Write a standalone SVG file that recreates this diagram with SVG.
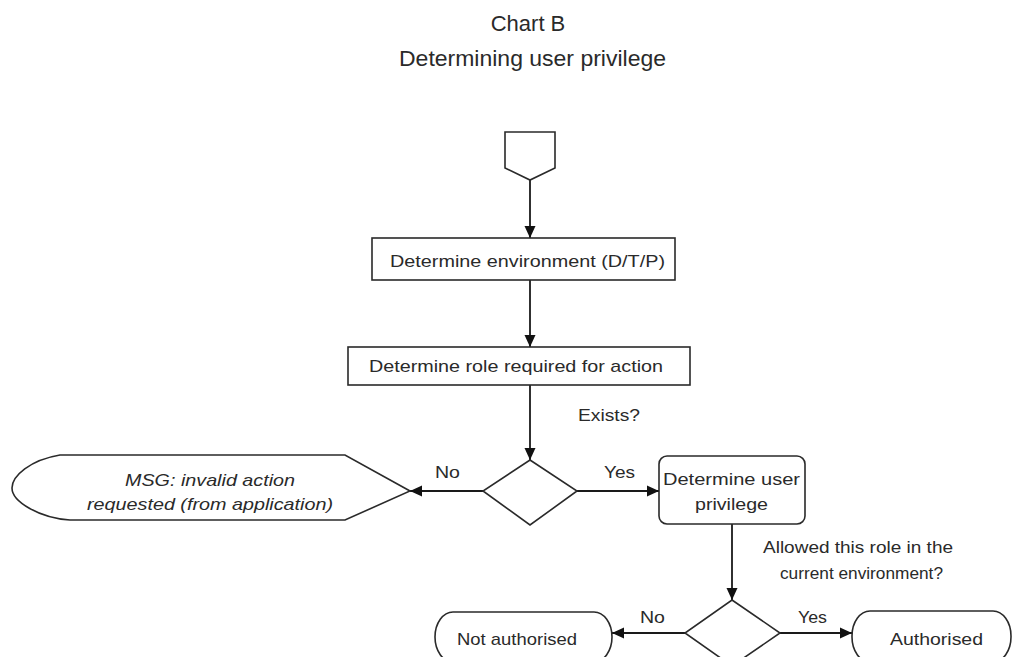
<svg xmlns="http://www.w3.org/2000/svg" width="1013" height="657" viewBox="0 0 1013 657">
<style>
text{font-family:"Liberation Sans",Arial,sans-serif;fill:#2a2a2a;font-size:17px}
.title{font-size:22px}
.it{font-style:italic}
.shape{fill:#fff;stroke:#2a2a2a;stroke-width:1.6}
.conn{fill:none;stroke:#1a1a1a;stroke-width:1.8}
</style>
<defs>
<marker id="ah" markerUnits="userSpaceOnUse" markerWidth="14" markerHeight="14" viewBox="0 0 14 14" refX="13" refY="7" orient="auto">
<path d="M1,1.5 L13,7 L1,12.5 Z" fill="#111"/>
</marker>
</defs>
<rect width="1013" height="657" fill="#fff"/>
<g id="title">
<text class="title" x="528" y="31" text-anchor="middle">Chart B</text>
<text class="title" x="399" y="66" textLength="267" lengthAdjust="spacingAndGlyphs">Determining user privilege</text>
</g>
<g id="connectors">
<line class="conn" x1="530" y1="180" x2="530" y2="238" marker-end="url(#ah)"/>
<line class="conn" x1="530" y1="280" x2="530" y2="347" marker-end="url(#ah)"/>
<line class="conn" x1="530" y1="385" x2="530" y2="460" marker-end="url(#ah)"/>
<line class="conn" x1="483" y1="491" x2="410" y2="491" marker-end="url(#ah)"/>
<line class="conn" x1="577" y1="491" x2="659" y2="491" marker-end="url(#ah)"/>
<line class="conn" x1="732" y1="524" x2="732" y2="600" marker-end="url(#ah)"/>
<line class="conn" x1="685" y1="633" x2="612" y2="633" marker-end="url(#ah)"/>
<line class="conn" x1="780" y1="633" x2="852" y2="633" marker-end="url(#ah)"/>
<text x="578" y="421" textLength="62" lengthAdjust="spacingAndGlyphs">Exists?</text>
<text x="435" y="478" textLength="25" lengthAdjust="spacingAndGlyphs">No</text>
<text x="604" y="478" textLength="31" lengthAdjust="spacingAndGlyphs">Yes</text>
<text x="763" y="553" textLength="190" lengthAdjust="spacingAndGlyphs">Allowed this role in the</text>
<text x="780" y="579" textLength="163" lengthAdjust="spacingAndGlyphs">current environment?</text>
<text x="640" y="623" textLength="25" lengthAdjust="spacingAndGlyphs">No</text>
<text x="798" y="623" textLength="29" lengthAdjust="spacingAndGlyphs">Yes</text>
</g>
<g id="start">
<polygon class="shape" points="505,132 555,132 555,168 530,180 505,168"/>
</g>
<g id="env">
<rect class="shape" x="372" y="238" width="303" height="42"/>
<text x="390" y="267" textLength="275" lengthAdjust="spacingAndGlyphs">Determine environment (D/T/P)</text>
</g>
<g id="role">
<rect class="shape" x="348" y="347" width="342" height="38"/>
<text x="369" y="372" textLength="294" lengthAdjust="spacingAndGlyphs">Determine role required for action</text>
</g>
<g id="exists">
<polygon class="shape" points="530,460 577,491 530,525 483,491"/>
</g>
<g id="msg">
<path class="shape" d="M60,455 L345,455 L410,491 L345,520 L70,520 C40,518 12,502 12,488 C12,476 30,460 60,455 Z"/>
<text class="it" x="125" y="486" textLength="170" lengthAdjust="spacingAndGlyphs">MSG: invalid action</text>
<text class="it" x="87" y="510" textLength="246" lengthAdjust="spacingAndGlyphs">requested (from application)</text>
</g>
<g id="userpriv">
<rect class="shape" x="659" y="456" width="146" height="68" rx="8"/>
<text x="663" y="485" textLength="137" lengthAdjust="spacingAndGlyphs">Determine user</text>
<text x="695" y="510" textLength="73" lengthAdjust="spacingAndGlyphs">privilege</text>
</g>
<g id="allowed">
<polygon class="shape" points="732,600 780,633 732,666 685,633"/>
</g>
<g id="notauth">
<rect class="shape" x="435" y="612" width="177" height="50" rx="18" ry="25"/>
<text x="457" y="645" textLength="120" lengthAdjust="spacingAndGlyphs">Not authorised</text>
</g>
<g id="auth">
<rect class="shape" x="852" y="611" width="159" height="51" rx="18" ry="25"/>
<text x="890" y="645" textLength="93" lengthAdjust="spacingAndGlyphs">Authorised</text>
</g>
</svg>
